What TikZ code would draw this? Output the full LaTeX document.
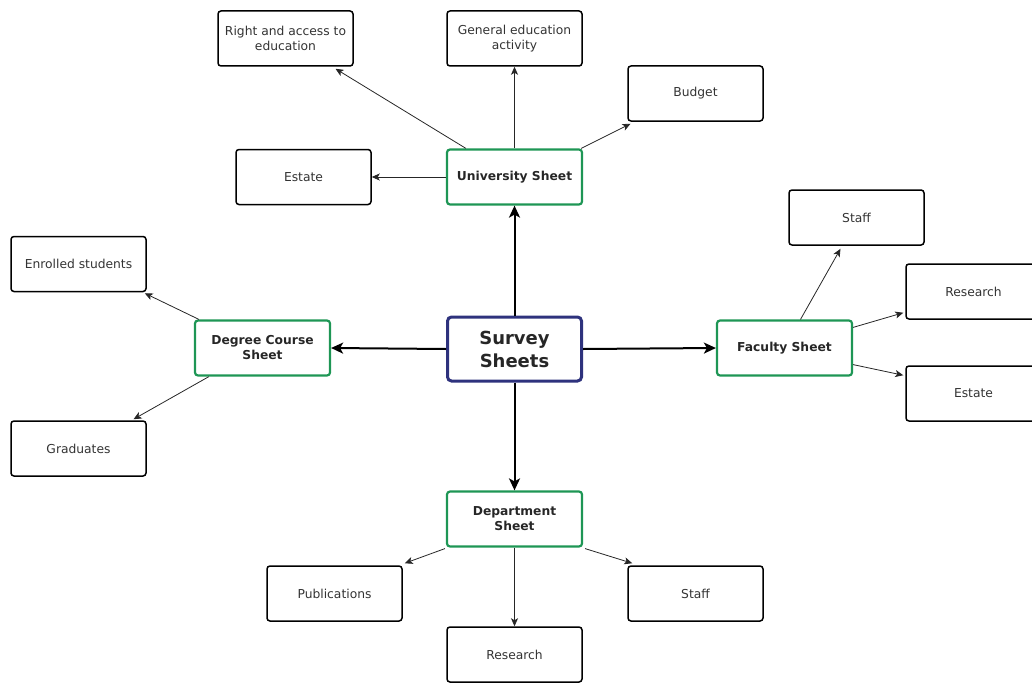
\documentclass[tikz,border=0pt]{standalone}
\usepackage{fontspec}
\setmainfont{DejaVu Sans}
\usetikzlibrary{arrows.meta}
\definecolor{sheetgreen}{RGB}{30,150,85}
\definecolor{hubblue}{RGB}{46,50,125}
\definecolor{labelgray}{RGB}{51,51,51}
\begin{document}
\begin{tikzpicture}[x=1pt,y=-1pt,
  leaf/.style={draw=black, rounded corners=3pt, line width=1.5pt, minimum width=135pt, minimum height=55pt,
    align=center, text=labelgray, font=\fontsize{12.3}{15}\selectfont, inner sep=2pt},
  sheet/.style={draw=sheetgreen, rounded corners=3pt, line width=2.2pt, minimum width=135pt, minimum height=55pt,
    align=center, text=black!85, font=\fontsize{12.3}{15}\selectfont\bfseries, inner sep=2pt},
  hub/.style={draw=hubblue, rounded corners=4pt, line width=3pt, minimum width=134pt, minimum height=64pt,
    align=center, text=black!85, font=\fontsize{18}{23}\selectfont\bfseries, inner sep=2pt},
  thin/.style={draw=black!85, line width=0.8pt, -{Stealth[length=8pt,width=7pt,inset=2pt]}},
  thick/.style={draw=black, line width=2pt, -{Stealth[length=12pt,width=11pt,inset=3pt]}}]
\useasboundingbox (0,0) rectangle (1032,682);

% centre and the four sheets
\node[hub]   (hub) at (514.5,349) {Survey\\Sheets};
\node[sheet] (uni) at (514.5,177) {University Sheet};
\node[sheet] (deg) at (262.5,348) {Degree Course\\Sheet};
\node[sheet] (fac) at (784.5,348) {Faculty Sheet};
\node[sheet] (dep) at (514.5,519) {Department\\Sheet};

% university items
\node[leaf] (right)  at (285.5,38.5) {Right and access to\\education};
\node[leaf] (gen)    at (514.5,38.5) {General education\\activity};
\node[leaf] (budget) at (695.5,93.5) {Budget};
\node[leaf] (uest)   at (303.5,177)  {Estate};

% degree course items
\node[leaf] (enr)  at (78.5,264)   {Enrolled students};
\node[leaf] (grad) at (78.5,448.5) {Graduates};

% faculty items
\node[leaf] (fstaff) at (856.5,217.5) {Staff};
\node[leaf] (fres)   at (973.5,291.5) {Research};
\node[leaf] (fest)   at (973.5,393.5) {Estate};

% department items
\node[leaf] (pub)    at (334.5,593.5) {Publications};
\node[leaf] (dstaff) at (695.5,593.5) {Staff};
\node[leaf] (dres)   at (514.5,654.5) {Research};

% main connectors
\draw[thick] (hub.north) -- (uni.south);
\draw[thick] (hub.west)  -- (deg.east);
\draw[thick] (hub.east)  -- (fac.west);
\draw[thick] (hub.south) -- (dep.north);

% university connectors
\draw[thin] ([xshift=20pt]uni.north west) -- ([xshift=50pt,yshift=-2pt]right.south);
\draw[thin] (uni.north) -- (gen.south);
\draw[thin] ([xshift=-2pt]uni.north east) -- ([xshift=-65pt,yshift=-2pt]budget.south);
\draw[thin] (uni.west) -- (uest.east);

% degree course connectors
\draw[thin] ([xshift=5pt]deg.north west) -- ([xshift=-2pt,yshift=-1pt]enr.south east);
\draw[thin] ([xshift=15pt]deg.south west) -- ([xshift=55pt,yshift=1pt]grad.north);

% faculty connectors
\draw[thin] ([xshift=16pt]fac.north) -- ([xshift=-16pt,yshift=-3pt]fstaff.south);
\draw[thin] ([yshift=-8pt]fac.north east) -- ([xshift=-2pt,yshift=7pt]fres.south west);
\draw[thin] ([yshift=12pt]fac.south east) -- ([xshift=-2pt,yshift=-10pt]fest.north west);

% department connectors
\draw[thin] ([xshift=-1pt,yshift=-1pt]dep.south west) -- ([xshift=2pt,yshift=2pt]pub.north east);
\draw[thin] (dep.south) -- (dres.north);
\draw[thin] ([xshift=2pt,yshift=-1pt]dep.south east) -- ([xshift=5pt,yshift=2pt]dstaff.north west);
\end{tikzpicture}
\end{document}
